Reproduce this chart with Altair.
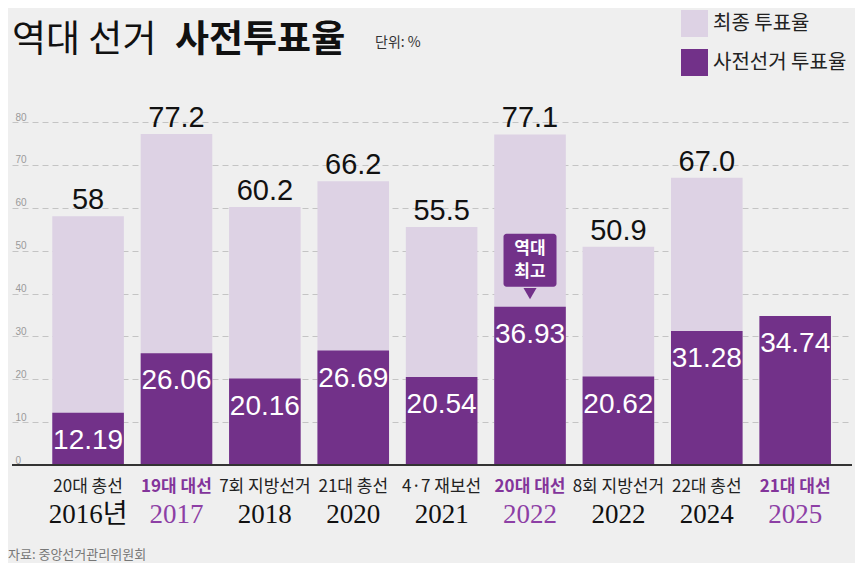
import altair as alt
import pandas as pd

# 선거별 최종 투표율 / 사전투표율 (단위: %)
ELECTIONS = ["20대 총선", "19대 대선", "7회 지방선거", "21대 총선", "4·7 재보선",
             "20대 대선", "8회 지방선거", "22대 총선", "21대 대선"]
YEARS = ["2016년", "2017", "2018", "2020", "2021", "2022", "2022", "2024", "2025"]
FINAL = [58.0, 77.2, 60.2, 66.2, 55.5, 77.1, 50.9, 67.0, None]
FINAL_LABELS = ["58", "77.2", "60.2", "66.2", "55.5", "77.1", "50.9", "67.0", ""]
EARLY = [12.19, 26.06, 20.16, 26.69, 20.54, 36.93, 20.62, 31.28, 34.74]
PRESIDENTIAL = [False, True, False, False, False, True, False, False, True]

SERIES = ["최종 투표율", "사전선거 투표율"]
COLORS = ["#ddd2e4", "#723189"]
PURPLE_TXT = "#83349b"
BG = "#efefef"

KR = "Noto Sans CJK KR"
NUM = "Liberation Sans, Arial, sans-serif"
SERIF = "Liberation Serif, Noto Sans CJK KR"

W, H = 840, 343

keys = [f"{e} {y}" for e, y in zip(ELECTIONS, YEARS)]
wide = pd.DataFrame({
    "key": keys, "elect": ELECTIONS, "year": YEARS, "final": FINAL,
    "final_label": FINAL_LABELS, "early": EARLY, "pres": PRESIDENTIAL,
})

rows = []
for k, f, e in zip(keys, FINAL, EARLY):
    if f is not None:
        rows.append({"key": k, "series": SERIES[0], "value": f})
    rows.append({"key": k, "series": SERIES[1], "value": e})
long = pd.DataFrame(rows)

X = alt.X("key:N", sort=keys, axis=None,
          scale=alt.Scale(paddingInner=0.19, paddingOuter=0.347, align=0.657))
YSCALE = alt.Scale(domain=[0, 80], nice=False)
YAXIS = alt.Axis(values=list(range(0, 81, 10)), title=None, domain=False, ticks=False,
                 labelAlign="left", labelBaseline="alphabetic", labelPadding=-3,
                 labelOffset=-2, labelFont=NUM, labelFontSize=10, labelColor="#9a9a9a",
                 grid=True, gridColor="#c4c4c4", gridDash=[6, 4], gridWidth=1)


def yenc(field):
    return alt.Y(field, scale=YSCALE, axis=YAXIS, stack=None)


bars = alt.Chart(long).mark_bar().encode(
    x=X,
    y=yenc("value:Q"),
    color=alt.Color("series:N", scale=alt.Scale(domain=SERIES, range=COLORS),
                    legend=alt.Legend(title=None, orient="none", legendX=669, legendY=-112,
                                      symbolType="square", symbolSize=729,
                                      symbolStrokeWidth=0, rowPadding=12, padding=0,
                                      labelFont=KR, labelFontSize=20, labelColor="#222",
                                      labelOffset=5)),
)

base_line = alt.Chart(pd.DataFrame({"value": [0]})).mark_rule(
    color="#333", strokeWidth=2).encode(y=yenc("value:Q"))

final_txt = alt.Chart(wide).transform_filter("datum.final_label != ''").mark_text(
    font=NUM, fontSize=29, color="#111", baseline="alphabetic", dy=-7
).encode(x=X, y=yenc("final:Q"), text="final_label:N")

early_txt = alt.Chart(wide).mark_text(
    font=NUM, fontSize=28, color="white", baseline="alphabetic", dy=36
).encode(x=X, y=yenc("early:Q"), text=alt.Text("early:Q", format=".2f"))

# 역대 최고 말풍선
top = alt.Chart(wide).transform_joinaggregate(mx="max(early)").transform_filter(
    "datum.early == datum.mx")
box = top.mark_bar(width=53, cornerRadius=3, yOffset=-20, y2Offset=-73,
                   color=COLORS[1]).encode(x=X, y=yenc("early:Q"), y2="early")
tri = top.mark_point(shape="triangle-down", filled=True, size=170, opacity=1,
                     color=COLORS[1], yOffset=-13).encode(x=X, y=yenc("early:Q"))
box_txt = top.mark_text(text=["역대", "최고"], lineHeight=23, font=KR, fontSize=17,
                        fontWeight="bold", color="white", baseline="middle",
                        dy=-58).encode(x=X, y=yenc("early:Q"))

# x축 라벨 (선거명 / 연도)
lab_norm = alt.Chart(wide).transform_filter("!datum.pres").mark_text(
    font=KR, fontSize=17, color="#222", baseline="middle"
).encode(x=X, y=alt.value(H + 22), text="elect:N")
lab_pres = alt.Chart(wide).transform_filter("datum.pres").mark_text(
    font=KR, fontSize=17, fontWeight="bold", color=PURPLE_TXT, baseline="middle"
).encode(x=X, y=alt.value(H + 22), text="elect:N")
lab_year = alt.Chart(wide).mark_text(
    font=SERIF, fontSize=27, baseline="middle"
).encode(x=X, y=alt.value(H + 50), text="year:N",
         color=alt.condition("datum.pres", alt.value("#8d3fa5"), alt.value("#111")))

one = pd.DataFrame({"a": [0]})
t1 = alt.Chart(one).mark_text(text="역대  선거", font=KR, fontSize=37, color="#111",
                              align="left", baseline="alphabetic").encode(
    x=alt.value(0), y=alt.value(-70))
t2 = alt.Chart(one).mark_text(text="사전투표율", font=KR, fontSize=37, fontWeight="bold",
                              color="#111", align="left", baseline="alphabetic").encode(
    x=alt.value(163), y=alt.value(-70))
t3 = alt.Chart(one).mark_text(text="단위: %", font=KR, fontSize=14, color="#333",
                              align="left", baseline="alphabetic").encode(
    x=alt.value(363), y=alt.value(-75))
src = alt.Chart(one).mark_text(text="자료: 중앙선거관리위원회", font=KR, fontSize=13,
                               color="#777", align="left", baseline="alphabetic").encode(
    x=alt.value(-4), y=alt.value(H + 94))

chart = alt.layer(
    bars, base_line, final_txt, early_txt, box, tri, box_txt,
    lab_norm, lab_pres, lab_year, t1, t2, t3, src
).properties(
    width=W, height=H,
    autosize=alt.AutoSizeParams(type="none"),
    padding={"left": 4, "top": 114, "right": 3, "bottom": 98},
    background=BG,
).configure_view(stroke=None)

chart.save("out.html", embed_options={"renderer": "svg", "actions": False})
